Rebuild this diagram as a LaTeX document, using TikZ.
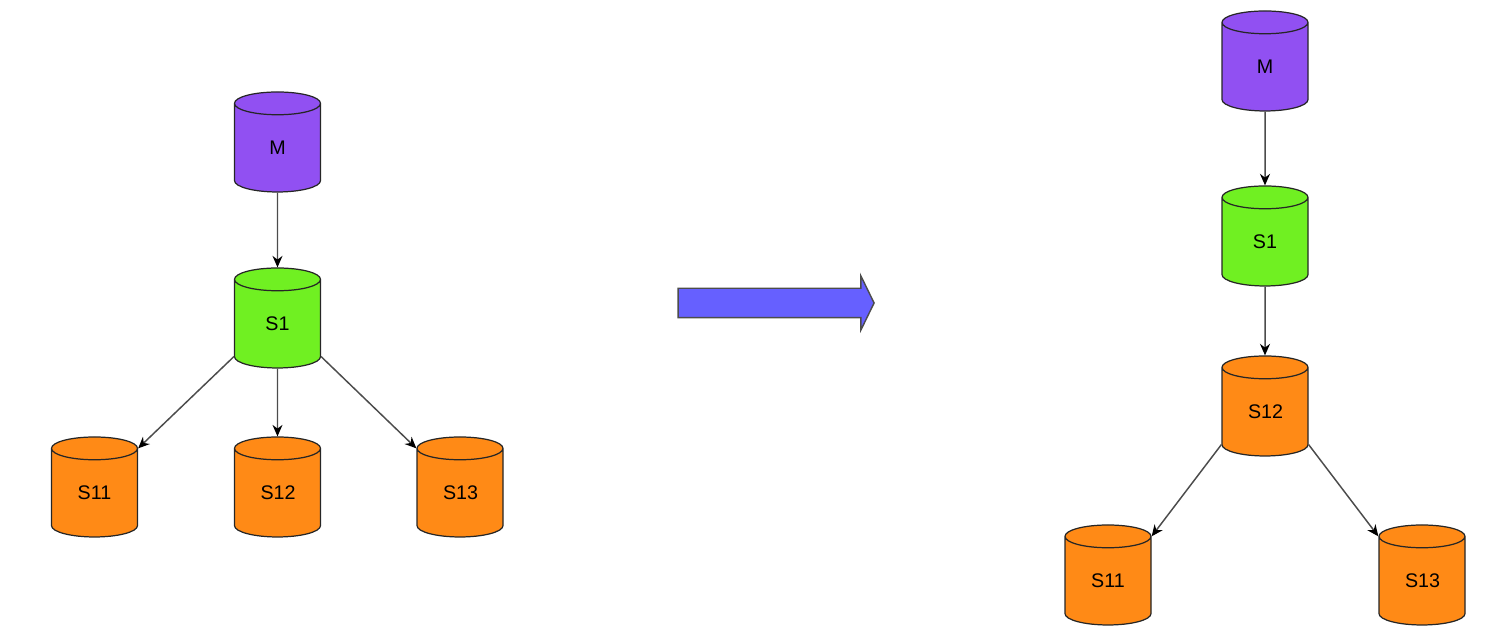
\documentclass[tikz,border=0pt]{standalone}
\usepackage{fontspec}
\setmainfont{Liberation Sans}
\usetikzlibrary{shapes.geometric, shapes.arrows, arrows.meta}
\definecolor{dbpurple}{HTML}{9150F2}
\definecolor{dbgreen}{HTML}{70F022}
\definecolor{dborange}{HTML}{FF8A16}
\definecolor{dbblue}{HTML}{6660FF}
\tikzset{
    db/.style={cylinder, shape border rotate=90, aspect=.67, draw=black!85, line width=.35pt,
        minimum width=.86cm, minimum height=1cm, inner sep=0pt, text width=.34cm, align=center,
        font=\fontsize{5.6}{7}\selectfont},
    link/.style={-{Stealth[length=.115cm, width=.1cm, black]}, draw=black!70, line width=.42pt}
}

\begin{document}
\begin{tikzpicture}[x=1cm, y=1cm]
            \useasboundingbox (0, 0) rectangle (14.98, 6.36);
            \node[db, fill=dbpurple] (M) at (2.775, 4.88) {M};
            \node[db, fill=dbgreen] (S1) at (2.775, 3.12) {S1};
            \node[db, fill=dborange] (S11) at (0.945, 1.43) {S11};
            \node[db, fill=dborange] (S12) at (2.775, 1.43) {S12};
            \node[db, fill=dborange] (S13) at (4.6, 1.43) {S13};
            \draw[link] (M.south) -- (S1.north);
            \draw[link] (S1.south) -- (S12.north);
            \draw[link] (S1.after bottom) -- (S11.after top);
            \draw[link] (S1.before bottom) -- (S13.before top);

            \node[single arrow, draw=black!70, fill=dbblue, line width=.4pt, inner sep=.14cm,
                minimum height=1.96cm, single arrow head extend=.125cm,
                single arrow tip angle=128] (Move) at (7.725, 3.33) {};

            \node[db, fill=dbpurple] (Mp) at (12.65, 5.69) {M};
            \node[db, fill=dbgreen] (S1p) at (12.65, 3.94) {S1};
            \node[db, fill=dborange] (S12p) at (12.65, 2.24) {S12};
            \node[db, fill=dborange] (S11p) at (11.08, 0.55) {S11};
            \node[db, fill=dborange] (S13p) at (14.22, 0.55) {S13};
            \draw[link] (Mp.south) -- (S1p.north);
            \draw[link] (S1p.south) -- (S12p.north);
            \draw[link] (S12p.after bottom) -- (S11p.after top);
            \draw[link] (S12p.before bottom) -- (S13p.before top);
        \end{tikzpicture}
\end{document}
